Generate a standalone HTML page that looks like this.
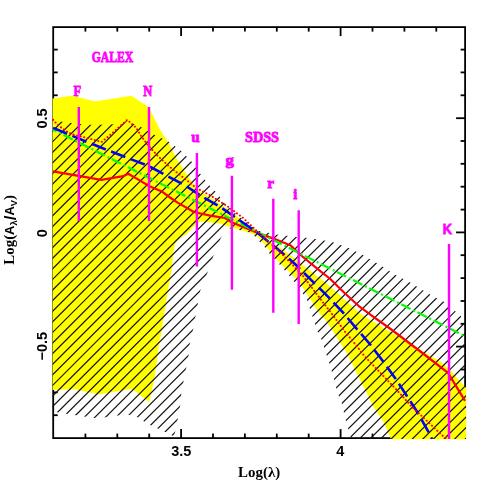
<!DOCTYPE html>
<html><head><meta charset="utf-8"><title>plot</title>
<style>
html,body{margin:0;padding:0;background:#fff;}
svg{display:block;}
text{font-family:"Liberation Serif",serif;font-weight:bold;}
.sans{font-family:"Liberation Sans",sans-serif;font-weight:bold;}
.m{fill:#ff00ff;stroke:#ff00ff;stroke-width:0.8px;}
</style></head><body>
<svg width="491" height="491" viewBox="0 0 491 491">
<rect width="491" height="491" fill="#fff"/>
<defs><clipPath id="hc"><polygon points="52.6,120.0 62.0,121.8 81.0,124.2 95.0,125.0 112.7,124.2 127.0,121.0 140.9,127.1 154.5,134.8 168.9,141.8 181.1,150.7 191.7,161.8 200.0,173.5 209.9,186.0 217.2,193.3 223.3,202.0 231.9,210.5 245.0,221.0 257.0,230.5 276.6,234.5 287.2,235.8 296.2,237.0 306.0,237.8 315.7,239.1 331.6,241.8 348.7,247.9 363.3,255.2 382.9,266.7 395.1,274.8 408.9,281.8 433.3,296.5 445.5,302.6 457.8,313.6 466.0,321.0 466.0,439.0 351.0,439.0 349.8,434.0 345.6,419.8 341.3,401.2 337.5,393.3 333.8,378.7 330.2,365.8 326.5,354.8 321.0,338.3 317.3,331.0 313.7,320.0 307.0,300.0 299.4,288.3 293.7,281.0 288.9,275.3 279.1,263.9 269.3,253.3 264.4,246.8 259.2,241.3 254.0,235.5 248.5,232.0 239.2,230.0 226.0,228.0 220.7,238.2 213.5,255.6 207.5,272.6 200.1,290.9 197.7,304.4 195.2,317.8 193.0,330.0 189.9,342.2 188.7,354.4 186.2,367.9 183.8,380.1 181.3,393.6 180.1,405.8 177.7,419.2 175.2,431.5 174.0,436.5 165.2,431.9 157.8,428.6 150.5,425.3 143.7,421.3 137.5,417.2 129.3,414.8 117.9,415.6 105.7,417.2 94.0,417.9 64.7,413.5 52.6,411.5"/></clipPath>
<clipPath id="pc"><rect x="52" y="26" width="414.3" height="413.3"/></clipPath></defs>
<g stroke="#000" stroke-width="1.8" fill="none" stroke-linecap="butt">
<rect x="53.2" y="27.1" width="411.9" height="411.0"/>
<line x1="85.4" y1="438.1" x2="85.4" y2="433.6"/><line x1="85.4" y1="27.1" x2="85.4" y2="31.6"/><line x1="117.3" y1="438.1" x2="117.3" y2="433.6"/><line x1="117.3" y1="27.1" x2="117.3" y2="31.6"/><line x1="149.2" y1="438.1" x2="149.2" y2="433.6"/><line x1="149.2" y1="27.1" x2="149.2" y2="31.6"/><line x1="181.1" y1="438.1" x2="181.1" y2="429.1"/><line x1="181.1" y1="27.1" x2="181.1" y2="36.1"/><line x1="213.0" y1="438.1" x2="213.0" y2="433.6"/><line x1="213.0" y1="27.1" x2="213.0" y2="31.6"/><line x1="244.9" y1="438.1" x2="244.9" y2="433.6"/><line x1="244.9" y1="27.1" x2="244.9" y2="31.6"/><line x1="276.8" y1="438.1" x2="276.8" y2="433.6"/><line x1="276.8" y1="27.1" x2="276.8" y2="31.6"/><line x1="308.7" y1="438.1" x2="308.7" y2="433.6"/><line x1="308.7" y1="27.1" x2="308.7" y2="31.6"/><line x1="340.6" y1="438.1" x2="340.6" y2="429.1"/><line x1="340.6" y1="27.1" x2="340.6" y2="36.1"/><line x1="372.5" y1="438.1" x2="372.5" y2="433.6"/><line x1="372.5" y1="27.1" x2="372.5" y2="31.6"/><line x1="404.4" y1="438.1" x2="404.4" y2="433.6"/><line x1="404.4" y1="27.1" x2="404.4" y2="31.6"/><line x1="436.3" y1="438.1" x2="436.3" y2="433.6"/><line x1="436.3" y1="27.1" x2="436.3" y2="31.6"/><line x1="53.2" y1="415.2" x2="57.7" y2="415.2"/><line x1="465.1" y1="415.2" x2="460.6" y2="415.2"/><line x1="53.2" y1="392.4" x2="57.7" y2="392.4"/><line x1="465.1" y1="392.4" x2="460.6" y2="392.4"/><line x1="53.2" y1="369.5" x2="57.7" y2="369.5"/><line x1="465.1" y1="369.5" x2="460.6" y2="369.5"/><line x1="53.2" y1="346.6" x2="62.2" y2="346.6"/><line x1="465.1" y1="346.6" x2="456.1" y2="346.6"/><line x1="53.2" y1="323.8" x2="57.7" y2="323.8"/><line x1="465.1" y1="323.8" x2="460.6" y2="323.8"/><line x1="53.2" y1="301.0" x2="57.7" y2="301.0"/><line x1="465.1" y1="301.0" x2="460.6" y2="301.0"/><line x1="53.2" y1="278.1" x2="57.7" y2="278.1"/><line x1="465.1" y1="278.1" x2="460.6" y2="278.1"/><line x1="53.2" y1="255.2" x2="57.7" y2="255.2"/><line x1="465.1" y1="255.2" x2="460.6" y2="255.2"/><line x1="53.2" y1="232.4" x2="62.2" y2="232.4"/><line x1="465.1" y1="232.4" x2="456.1" y2="232.4"/><line x1="53.2" y1="209.6" x2="57.7" y2="209.6"/><line x1="465.1" y1="209.6" x2="460.6" y2="209.6"/><line x1="53.2" y1="186.7" x2="57.7" y2="186.7"/><line x1="465.1" y1="186.7" x2="460.6" y2="186.7"/><line x1="53.2" y1="163.8" x2="57.7" y2="163.8"/><line x1="465.1" y1="163.8" x2="460.6" y2="163.8"/><line x1="53.2" y1="141.0" x2="57.7" y2="141.0"/><line x1="465.1" y1="141.0" x2="460.6" y2="141.0"/><line x1="53.2" y1="118.2" x2="62.2" y2="118.2"/><line x1="465.1" y1="118.2" x2="456.1" y2="118.2"/><line x1="53.2" y1="95.3" x2="57.7" y2="95.3"/><line x1="465.1" y1="95.3" x2="460.6" y2="95.3"/><line x1="53.2" y1="72.4" x2="57.7" y2="72.4"/><line x1="465.1" y1="72.4" x2="460.6" y2="72.4"/><line x1="53.2" y1="49.6" x2="57.7" y2="49.6"/><line x1="465.1" y1="49.6" x2="460.6" y2="49.6"/>
</g>
<g class="m" style="opacity:0.999">
<text x="91.7" y="62" font-size="15.5" textLength="41.6" lengthAdjust="spacingAndGlyphs">GALEX</text>
<text x="245" y="142.2" font-size="15.5" textLength="34" lengthAdjust="spacingAndGlyphs">SDSS</text>
<text x="73.6" y="96" font-size="15" textLength="7.6" lengthAdjust="spacingAndGlyphs">F</text>
<text x="143.3" y="96" font-size="15" textLength="9" lengthAdjust="spacingAndGlyphs">N</text>
<text x="191.2" y="142.2" font-size="15" textLength="8.4" lengthAdjust="spacingAndGlyphs">u</text>
<text x="225.4" y="164.5" font-size="15" textLength="8.4" lengthAdjust="spacingAndGlyphs">g</text>
<text x="267.3" y="188" font-size="15" textLength="6.8" lengthAdjust="spacingAndGlyphs">r</text>
<text x="293.3" y="199.3" font-size="15" textLength="4" lengthAdjust="spacingAndGlyphs">i</text>
<text class="sans" x="442.8" y="233.9" font-size="14.8" textLength="9.2" lengthAdjust="spacingAndGlyphs">K</text>
</g>
<g fill="#000" style="opacity:0.999">
<text class="sans" font-size="14.5" text-anchor="middle" x="181.3" y="455.6">3.5</text>
<text class="sans" font-size="14.5" text-anchor="middle" x="340.4" y="455.6">4</text>
<text class="sans" font-size="14.5" text-anchor="middle" transform="translate(46.8,118.4) rotate(-90)">0.5</text>
<text class="sans" font-size="14.5" text-anchor="middle" transform="translate(46.8,233.2) rotate(-90)">0</text>
<text class="sans" font-size="14.5" text-anchor="middle" transform="translate(46.8,346.2) rotate(-90)">−0.5</text>
<text font-size="15.3" x="238.1" y="477.1" textLength="42.2" lengthAdjust="spacingAndGlyphs">Log(λ)</text>
<text font-size="15" transform="translate(13.7,264.7) rotate(-90)" textLength="69.7" lengthAdjust="spacingAndGlyphs">Log(<tspan class="sans" font-size="13">A</tspan><tspan class="sans" font-size="9.5" dy="3.4">λ</tspan><tspan class="sans" font-size="17" font-weight="normal" dy="-1.2">/</tspan><tspan class="sans" font-size="13" dy="-2.2">A</tspan><tspan class="sans" font-size="9.5" dy="3.4">V</tspan><tspan dy="-3.4">)</tspan></text>
</g>
<polygon points="52.6,98.5 72.0,95.8 95.4,101.5 131.0,95.8 134.5,97.8 148.5,107.0 160.5,130.5 168.9,143.5 177.0,158.9 185.2,171.9 194.7,185.8 200.8,191.9 205.7,194.8 216.7,201.8 228.9,209.8 239.7,218.8 256.8,230.8 265.3,236.8 270.0,242.0 282.2,249.1 294.4,258.2 306.7,268.0 318.9,277.2 330.0,286.3 351.1,305.3 360.0,313.6 384.4,328.3 408.9,343.2 433.3,357.6 440.7,361.8 450.5,370.3 458.8,380.0 466.2,388.0 466.2,439.2 391.0,439.2 384.3,423.0 374.2,408.0 365.0,389.6 355.8,371.3 346.7,353.0 337.5,338.3 325.6,320.0 319.6,313.8 310.5,299.5 299.3,282.2 287.5,270.0 282.2,265.6 273.9,256.3 265.3,245.3 257.0,236.0 252.0,233.6 237.8,229.2 223.5,225.0 220.0,223.4 201.6,221.6 197.9,222.8 191.8,228.3 186.3,234.4 180.8,237.5 175.3,243.0 173.4,252.8 171.6,270.0 168.3,288.4 161.0,335.0 159.3,342.0 154.4,379.0 149.3,402.2 134.3,390.5 130.7,389.0 98.9,394.6 74.4,389.3 52.6,390.0" fill="#ffff00"/>
<g clip-path="url(#hc)" stroke="#111" stroke-width="1.2" fill="none">
<line x1="-700.82" y1="450" x2="-270.82" y2="20"/><line x1="-690.22" y1="450" x2="-260.22" y2="20"/><line x1="-679.63" y1="450" x2="-249.63" y2="20"/><line x1="-669.03" y1="450" x2="-239.03" y2="20"/><line x1="-658.43" y1="450" x2="-228.43" y2="20"/><line x1="-647.83" y1="450" x2="-217.83" y2="20"/><line x1="-637.24" y1="450" x2="-207.24" y2="20"/><line x1="-626.64" y1="450" x2="-196.64" y2="20"/><line x1="-616.04" y1="450" x2="-186.04" y2="20"/><line x1="-605.45" y1="450" x2="-175.45" y2="20"/><line x1="-594.85" y1="450" x2="-164.85" y2="20"/><line x1="-584.25" y1="450" x2="-154.25" y2="20"/><line x1="-573.66" y1="450" x2="-143.66" y2="20"/><line x1="-563.06" y1="450" x2="-133.06" y2="20"/><line x1="-552.46" y1="450" x2="-122.46" y2="20"/><line x1="-541.87" y1="450" x2="-111.86" y2="20"/><line x1="-531.27" y1="450" x2="-101.27" y2="20"/><line x1="-520.67" y1="450" x2="-90.67" y2="20"/><line x1="-510.07" y1="450" x2="-80.07" y2="20"/><line x1="-499.48" y1="450" x2="-69.48" y2="20"/><line x1="-488.88" y1="450" x2="-58.88" y2="20"/><line x1="-478.28" y1="450" x2="-48.28" y2="20"/><line x1="-467.69" y1="450" x2="-37.69" y2="20"/><line x1="-457.09" y1="450" x2="-27.09" y2="20"/><line x1="-446.49" y1="450" x2="-16.49" y2="20"/><line x1="-435.89" y1="450" x2="-5.89" y2="20"/><line x1="-425.30" y1="450" x2="4.70" y2="20"/><line x1="-414.70" y1="450" x2="15.30" y2="20"/><line x1="-404.10" y1="450" x2="25.90" y2="20"/><line x1="-393.51" y1="450" x2="36.49" y2="20"/><line x1="-382.91" y1="450" x2="47.09" y2="20"/><line x1="-372.31" y1="450" x2="57.69" y2="20"/><line x1="-361.72" y1="450" x2="68.28" y2="20"/><line x1="-351.12" y1="450" x2="78.88" y2="20"/><line x1="-340.52" y1="450" x2="89.48" y2="20"/><line x1="-329.93" y1="450" x2="100.07" y2="20"/><line x1="-319.33" y1="450" x2="110.67" y2="20"/><line x1="-308.73" y1="450" x2="121.27" y2="20"/><line x1="-298.13" y1="450" x2="131.87" y2="20"/><line x1="-287.54" y1="450" x2="142.46" y2="20"/><line x1="-276.94" y1="450" x2="153.06" y2="20"/><line x1="-266.34" y1="450" x2="163.66" y2="20"/><line x1="-255.75" y1="450" x2="174.25" y2="20"/><line x1="-245.15" y1="450" x2="184.85" y2="20"/><line x1="-234.55" y1="450" x2="195.45" y2="20"/><line x1="-223.95" y1="450" x2="206.05" y2="20"/><line x1="-213.36" y1="450" x2="216.64" y2="20"/><line x1="-202.76" y1="450" x2="227.24" y2="20"/><line x1="-192.16" y1="450" x2="237.84" y2="20"/><line x1="-181.57" y1="450" x2="248.43" y2="20"/><line x1="-170.97" y1="450" x2="259.03" y2="20"/><line x1="-160.37" y1="450" x2="269.63" y2="20"/><line x1="-149.78" y1="450" x2="280.22" y2="20"/><line x1="-139.18" y1="450" x2="290.82" y2="20"/><line x1="-128.58" y1="450" x2="301.42" y2="20"/><line x1="-117.99" y1="450" x2="312.01" y2="20"/><line x1="-107.39" y1="450" x2="322.61" y2="20"/><line x1="-96.79" y1="450" x2="333.21" y2="20"/><line x1="-86.19" y1="450" x2="343.81" y2="20"/><line x1="-75.60" y1="450" x2="354.40" y2="20"/><line x1="-65.00" y1="450" x2="365.00" y2="20"/><line x1="-54.40" y1="450" x2="375.60" y2="20"/><line x1="-43.81" y1="450" x2="386.19" y2="20"/><line x1="-33.21" y1="450" x2="396.79" y2="20"/><line x1="-22.61" y1="450" x2="407.39" y2="20"/><line x1="-12.01" y1="450" x2="417.99" y2="20"/><line x1="-1.42" y1="450" x2="428.58" y2="20"/><line x1="9.18" y1="450" x2="439.18" y2="20"/><line x1="19.78" y1="450" x2="449.78" y2="20"/><line x1="30.37" y1="450" x2="460.37" y2="20"/><line x1="40.97" y1="450" x2="470.97" y2="20"/><line x1="51.57" y1="450" x2="481.57" y2="20"/><line x1="62.16" y1="450" x2="492.16" y2="20"/><line x1="72.76" y1="450" x2="502.76" y2="20"/><line x1="83.36" y1="450" x2="513.36" y2="20"/><line x1="93.95" y1="450" x2="523.95" y2="20"/><line x1="104.55" y1="450" x2="534.55" y2="20"/><line x1="115.15" y1="450" x2="545.15" y2="20"/><line x1="125.75" y1="450" x2="555.75" y2="20"/><line x1="136.34" y1="450" x2="566.34" y2="20"/><line x1="146.94" y1="450" x2="576.94" y2="20"/><line x1="157.54" y1="450" x2="587.54" y2="20"/><line x1="168.13" y1="450" x2="598.13" y2="20"/><line x1="178.73" y1="450" x2="608.73" y2="20"/><line x1="189.33" y1="450" x2="619.33" y2="20"/><line x1="199.92" y1="450" x2="629.92" y2="20"/><line x1="210.52" y1="450" x2="640.52" y2="20"/><line x1="221.12" y1="450" x2="651.12" y2="20"/><line x1="231.72" y1="450" x2="661.72" y2="20"/><line x1="242.31" y1="450" x2="672.31" y2="20"/><line x1="252.91" y1="450" x2="682.91" y2="20"/><line x1="263.51" y1="450" x2="693.51" y2="20"/><line x1="274.10" y1="450" x2="704.10" y2="20"/><line x1="284.70" y1="450" x2="714.70" y2="20"/><line x1="295.30" y1="450" x2="725.30" y2="20"/><line x1="305.89" y1="450" x2="735.89" y2="20"/><line x1="316.49" y1="450" x2="746.49" y2="20"/><line x1="327.09" y1="450" x2="757.09" y2="20"/><line x1="337.69" y1="450" x2="767.69" y2="20"/><line x1="348.28" y1="450" x2="778.28" y2="20"/><line x1="358.88" y1="450" x2="788.88" y2="20"/><line x1="369.48" y1="450" x2="799.48" y2="20"/><line x1="380.07" y1="450" x2="810.07" y2="20"/><line x1="390.67" y1="450" x2="820.67" y2="20"/><line x1="401.27" y1="450" x2="831.27" y2="20"/><line x1="411.87" y1="450" x2="841.87" y2="20"/><line x1="422.46" y1="450" x2="852.46" y2="20"/><line x1="433.06" y1="450" x2="863.06" y2="20"/><line x1="443.66" y1="450" x2="873.66" y2="20"/><line x1="454.25" y1="450" x2="884.25" y2="20"/><line x1="464.85" y1="450" x2="894.85" y2="20"/><line x1="475.45" y1="450" x2="905.45" y2="20"/><line x1="486.04" y1="450" x2="916.04" y2="20"/><line x1="496.64" y1="450" x2="926.64" y2="20"/><line x1="507.24" y1="450" x2="937.24" y2="20"/><line x1="517.83" y1="450" x2="947.83" y2="20"/><line x1="528.43" y1="450" x2="958.43" y2="20"/><line x1="539.03" y1="450" x2="969.03" y2="20"/><line x1="549.63" y1="450" x2="979.63" y2="20"/><line x1="560.22" y1="450" x2="990.22" y2="20"/><line x1="570.82" y1="450" x2="1000.82" y2="20"/><line x1="581.42" y1="450" x2="1011.42" y2="20"/><line x1="592.01" y1="450" x2="1022.01" y2="20"/><line x1="602.61" y1="450" x2="1032.61" y2="20"/><line x1="613.21" y1="450" x2="1043.21" y2="20"/><line x1="623.80" y1="450" x2="1053.80" y2="20"/><line x1="634.40" y1="450" x2="1064.40" y2="20"/><line x1="645.00" y1="450" x2="1075.00" y2="20"/><line x1="655.60" y1="450" x2="1085.60" y2="20"/><line x1="666.19" y1="450" x2="1096.19" y2="20"/><line x1="676.79" y1="450" x2="1106.79" y2="20"/><line x1="687.39" y1="450" x2="1117.39" y2="20"/><line x1="697.98" y1="450" x2="1127.98" y2="20"/><line x1="708.58" y1="450" x2="1138.58" y2="20"/><line x1="719.18" y1="450" x2="1149.18" y2="20"/><line x1="729.78" y1="450" x2="1159.78" y2="20"/><line x1="740.37" y1="450" x2="1170.37" y2="20"/><line x1="750.97" y1="450" x2="1180.97" y2="20"/><line x1="761.57" y1="450" x2="1191.57" y2="20"/><line x1="772.16" y1="450" x2="1202.16" y2="20"/>
</g>
<g fill="none" clip-path="url(#pc)">
<polyline points="53.0,171.3 101.3,179.8 123.3,176.2 128.2,173.7 136.3,178.4 149.0,186.0 161.3,191.2 170.0,197.5 177.6,202.6 193.9,212.0 210.2,215.6 225.0,218.0 232.2,222.5 256.7,232.6 273.6,238.6 290.8,245.6 300.0,254.5 317.5,268.8 330.3,279.0 344.3,292.7 358.5,305.8 372.8,316.4 392.0,330.0 421.1,352.0 448.0,372.8 451.7,378.9 465.0,400.9" stroke="#ff0000" stroke-width="2.2" stroke-linejoin="round"/>
<polyline points="53.0,129.6 465.0,336.2" stroke="#00ff00" stroke-width="2.2" stroke-dasharray="10.3 3 2 2.7" stroke-dashoffset="6.3"/>
<polyline points="53.1,127.9 87.7,142.2 108.0,150.3 127.4,157.9 147.8,165.6 166.9,175.8 185.2,185.5 202.3,196.6 219.4,206.3 235.3,217.3 251.2,228.3 257.0,232.3 285.4,255.5 296.4,265.3 312.3,281.2 327.7,296.4 342.4,311.8 356.1,328.1 370.0,344.2 383.0,361.3 395.4,378.4 406.9,396.0 418.7,414.3 428.0,431.0 432.0,439.0" stroke="#0000ff" stroke-width="2.6" stroke-dasharray="15.2 5.68"/>
<polyline points="53.1,119.7 57.3,124.6 62.2,128.2 68.3,132.5 74.4,135.0 84.2,137.3 92.8,139.5 101.5,142.0 111.1,134.2 119.2,127.0 127.3,119.8 136.3,127.9 141.2,136.1 148.5,145.8 157.5,155.6 168.9,166.2 180.3,175.2 191.7,184.1 196.4,188.0 211.1,195.8 228.2,206.8 242.9,217.8 257.5,231.5 281.1,253.1 301.6,274.1 316.3,293.6 332.6,314.8 344.9,331.6 356.3,345.5 364.4,356.1 380.7,373.2 397.0,390.3 411.7,406.6 445.6,438.5" stroke="#ff0000" stroke-width="2" stroke-dasharray="0.1 3.56" stroke-linecap="round"/>
<g stroke="#ff00ff" stroke-width="2.4"><line x1="78.8" y1="107" x2="78.8" y2="221"/><line x1="149" y1="107" x2="149" y2="221"/><line x1="196.9" y1="153" x2="196.9" y2="266.5"/><line x1="231.9" y1="175.7" x2="231.9" y2="289.7"/><line x1="273.3" y1="198.8" x2="273.3" y2="312.8"/><line x1="298.7" y1="210.3" x2="298.7" y2="324"/><line x1="449" y1="244" x2="449" y2="439"/></g>
</g>
</svg>
</body></html>
